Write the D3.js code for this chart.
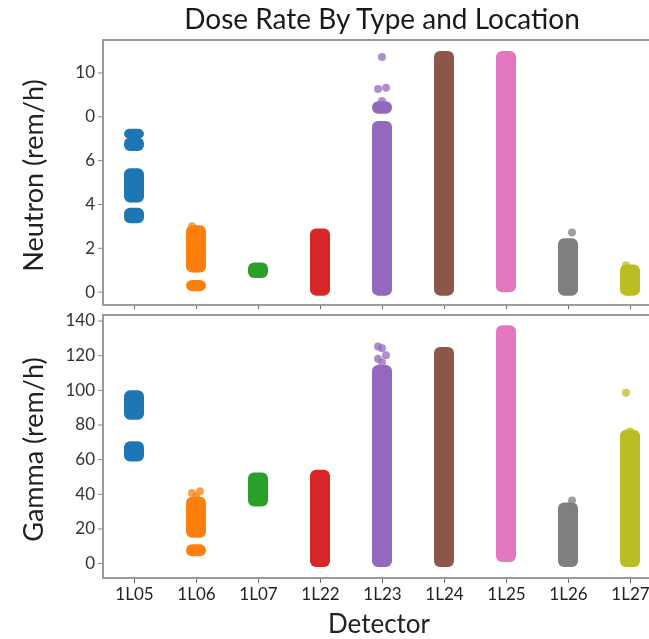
<!DOCTYPE html>
<html>
<head>
<meta charset="utf-8">
<script src="https://cdn.jsdelivr.net/npm/d3@7"></script>
<style>
  body { margin: 0; background: #fff; }
  svg { display: block; font-family: Lato, 'Open Sans', sans-serif; }
</style>
</head>
<body>
<div id="chart"></div>
<script>
const detectors = ['1L05', '1L06', '1L07', '1L22', '1L23', '1L24', '1L25', '1L26', '1L27'];

// dense runs of points, [detector, low, high] in rem/h
const neutronRuns = [
  ['1L05', 7.15, 7.25], ['1L05', 6.6, 6.85], ['1L05', 4.25, 5.45], ['1L05', 3.3, 3.65],
  ['1L06', 1.05, 2.85], ['1L06', 0.2, 0.35],
  ['1L07', 0.8, 1.15],
  ['1L22', 0, 2.7],
  ['1L23', 0, 7.6], ['1L23', 8.3, 8.5],
  ['1L24', 0, 10.8],
  ['1L25', 0.15, 10.8],
  ['1L26', 0, 2.25],
  ['1L27', 0, 1.05]
];
// isolated points, [detector, value]
const neutronSingles = [
  ['1L06', 2.98],
  ['1L23', 10.7], ['1L23', 9.3], ['1L23', 9.25], ['1L23', 8.7],
  ['1L26', 2.7],
  ['1L27', 1.2]
];

const gammaRuns = [
  ['1L05', 85, 97.5], ['1L05', 61, 68],
  ['1L06', 17, 36], ['1L06', 6.3, 8.6],
  ['1L07', 35, 50],
  ['1L22', 0, 51.6],
  ['1L23', 0, 112],
  ['1L24', 0, 122.4],
  ['1L25', 3, 135],
  ['1L26', 0, 32.7],
  ['1L27', 0, 74.6]
];
const gammaSingles = [
  ['1L06', 40.5], ['1L06', 38.5], ['1L06', 41.5],
  ['1L23', 125], ['1L23', 124], ['1L23', 120], ['1L23', 118], ['1L23', 116],
  ['1L26', 36.1],
  ['1L27', 98.3], ['1L27', 76]
];

const neutronTicks = [0, 2, 4, 6, 8, 10];
const neutronTickLabels = ['0', '2', '4', '6', '0', '10'];
const gammaTicks = [0, 20, 40, 60, 80, 100, 120, 140];

const width = 649;
const height = 639;
const plotLeft = 103;
const plotRight = 661;
const r = 4;

const svg = d3
  .select('#chart')
  .append('svg')
  .attr('width', width)
  .attr('height', height);

// soften the edges a little, like the jittered dots in the original
svg
  .append('defs')
  .append('filter')
  .attr('id', 'soft')
  .append('feGaussianBlur')
  .attr('stdDeviation', 0.7);

const xScale = d3
  .scalePoint()
  .domain(detectors)
  .range([plotLeft, plotRight])
  .padding(0.5);

const color = d3.scaleOrdinal().domain(detectors).range(d3.schemeCategory10);

const drawPanel = (top, bottom, domain, runs, singles, ticks, tickLabels, label, showX) => {
  const yScale = d3.scaleLinear().domain(domain).range([bottom, top]);
  const g = svg.append('g');

  // runs drawn as a strip of overlapping dots
  g.append('g')
    .attr('filter', 'url(#soft)')
    .selectAll('rect')
    .data(runs)
    .join('rect')
    .attr('x', (d) => xScale(d[0]) - 10)
    .attr('y', (d) => yScale(d[2]) - r)
    .attr('width', 20)
    .attr('height', (d) => yScale(d[1]) - yScale(d[2]) + 2 * r)
    .attr('rx', 6)
    .attr('fill', (d) => color(d[0]));

  g.append('g')
    .attr('filter', 'url(#soft)')
    .selectAll('circle')
    .data(singles)
    .join('circle')
    .attr('cx', (d, i) => xScale(d[0]) + ((i % 3) - 1) * 4)
    .attr('cy', (d) => yScale(d[1]))
    .attr('r', r)
    .attr('fill', (d) => color(d[0]))
    .attr('opacity', 0.75);

  // frame
  g.append('rect')
    .attr('x', plotLeft)
    .attr('y', top)
    .attr('width', plotRight - plotLeft)
    .attr('height', bottom - top)
    .attr('fill', 'none')
    .attr('stroke', '#9a9a9a')
    .attr('stroke-width', 2);

  const yAxis = g
    .append('g')
    .attr('transform', `translate(${plotLeft - 1}, 0)`)
    .call(
      d3
        .axisLeft(yScale)
        .tickValues(ticks)
        .tickSize(4)
        .tickPadding(3)
        .tickFormat((t, i) => tickLabels[i])
    );
  yAxis.select('.domain').remove();
  yAxis.selectAll('line').attr('stroke', '#888');
  yAxis
    .selectAll('text')
    .attr('fill', '#333')
    .style('font-size', '17px')
    .style('font-family', 'Lato, sans-serif');

  const xAxis = g
    .append('g')
    .attr('transform', `translate(0, ${bottom + 1})`)
    .call(
      d3
        .axisBottom(xScale)
        .tickSize(showX ? 4 : 3)
        .tickPadding(5)
        .tickFormat((d) => (showX ? d : ''))
    );
  xAxis.select('.domain').remove();
  xAxis.selectAll('line').attr('stroke', '#666');
  xAxis
    .selectAll('text')
    .attr('fill', '#222')
    .style('font-size', '17px')
    .style('font-family', 'Lato, sans-serif');

  svg
    .append('text')
    .attr('transform', `translate(43, ${(top + bottom) / 2 + 3}) rotate(-90)`)
    .attr('text-anchor', 'middle')
    .style('font-size', '27px')
    .attr('fill', '#222')
    .text(label);
};

drawPanel(40, 305, [-0.61, 11.48], neutronRuns, neutronSingles, neutronTicks, neutronTickLabels, 'Neutron (rem/h)', false);
drawPanel(315, 578, [-8.6, 143.2], gammaRuns, gammaSingles, gammaTicks, gammaTicks.map(String), 'Gamma (rem/h)', true);

svg
  .append('text')
  .attr('x', (plotLeft + plotRight) / 2)
  .attr('y', 29)
  .attr('text-anchor', 'middle')
  .style('font-size', '28px')
  .attr('fill', '#1a1a1a')
  .text('Dose Rate By Type and Location');

svg
  .append('text')
  .attr('x', (plotLeft + plotRight) / 2 - 3)
  .attr('y', 633)
  .attr('text-anchor', 'middle')
  .style('font-size', '26px')
  .attr('fill', '#222')
  .text('Detector');
</script>
</body>
</html>
